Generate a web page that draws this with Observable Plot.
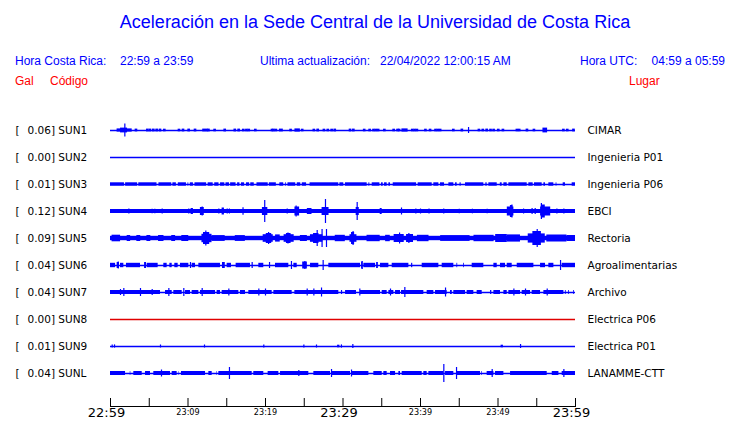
<!DOCTYPE html>
<html><head><meta charset="utf-8">
<script src="https://cdn.jsdelivr.net/npm/d3@7"></script>
<script src="https://cdn.jsdelivr.net/npm/@observablehq/plot@0.6"></script>
<style>
html,body{margin:0;padding:0;background:#fff;}
#wrap{width:740px;height:423px;position:relative;overflow:hidden;}
#head{position:relative;width:740px;height:96px;font-family:"Liberation Sans",Arial,sans-serif;}
#head span{position:absolute;white-space:pre;line-height:1;}
.blue{color:#0000ff;}
.red{color:#ff0000;}
#chart svg{display:block;}
</style></head>
<body><div id="wrap">
<div id="head"></div>
<div id="chart"></div>
</div>
<script>
// ---------- data ----------
const stations = ["SUN1","SUN2","SUN3","SUN4","SUN5","SUN6","SUN7","SUN8","SUN9","SUNL"];
const peaks = ["0.06","0.00","0.01","0.12","0.09","0.04","0.04","0.00","0.01","0.04"];
const places = ["CIMAR","Ingenieria P01","Ingenieria P06","EBCI","Rectoria","Agroalimentarias","Archivo","Electrica P06","Electrica P01","LANAMME-CTT"];
// minutes after 22:59
const tickMinutes = [0,5,10,15,20,25,30,35,40,45,50,55,60];
const labelMinutes = [0,10,20,30,40,50,60];
const labelTexts = ["22:59","23:09","23:19","23:29","23:39","23:49","23:59"];
const labelMajor = [true,false,false,true,false,false,true];

const headTitle = "Aceleración en la Sede Central de la Universidad de Costa Rica";
const headCR = ["Hora Costa Rica:", "22:59 a 23:59"];
const headUpd = ["Ultima actualización:", "22/04/2022 12:00:15 AM"];
const headUTC = ["Hora UTC:", "04:59 a 05:59"];
const headCols = ["Gal", "Código", "Lugar"];

// trace envelopes: bands [t0, t1, halfAmp], spikes [t, halfAmp], blips [t, halfAmp]
const sun1Blips = [[3.35,1.4],[4.82,1.4],[5.16,1.4],[5.59,1.4],[6.02,1.4],[6.45,1.4],[7.01,1.3],[8.9,1.3],[9.42,1.4],[10.15,1.4],[10.97,1.4],[12.7,1.4],[13.5,1.3],[14.8,1.4],[16.1,1.4],[16.6,1.4],[17.2,1.3],[17.6,1.3],[17.9,1.3],[18.75,1.3],[20.9,1.3],[21.1,1.3],[21.4,1.3],[23.3,1.3],[24.8,1.3],[26.3,1.3],[26.8,1.4],[27.6,1.3],[28.1,1.3],[28.6,1.3],[29.0,1.4],[30.97,1.4],[31.4,1.4],[32.8,1.3],[33.5,1.3],[34.0,1.3],[34.3,1.3],[34.6,1.3],[35.4,1.3],[36.6,1.3],[37.1,1.3],[37.3,1.3],[39.0,1.3],[39.3,1.3],[39.6,1.3],[40.7,1.3],[41.3,1.3],[42.0,1.3],[42.3,1.3],[42.6,1.3],[44.3,1.3],[45.4,1.4],[47.6,1.3],[48.1,1.3],[48.6,1.4],[49.1,1.3],[49.5,1.3],[50.1,1.3],[50.7,1.3],[52.5,1.3],[52.8,1.3],[53.8,1.4],[54.7,1.3],[58.5,1.3],[59.0,1.3],[59.8,1.4]];
const sun1Bands = [[0.85,2.8,1.6],[1.3,2.2,2.4],[11.9,12.6,1.4],[21.8,22.3,1.4],[23.8,24.5,1.6],[37.6,38.4,1.6],[55.8,56.4,2.4]];
const sun1Spikes = [[1.85,6.5],[46.2,3]];

const sun3Bands = [[0,1.8],[1.95,3.5],[3.65,6.0],[6.25,7.9],[8.05,8.5],[8.75,9.8],[10.0,10.1],[10.3,10.7],[10.9,12.4],[12.6,13.25],[13.45,14.0],[14.2,14.75],[14.9,15.35],[15.5,16.2],[16.4,16.7],[16.9,17.3],[17.55,17.95],[18.1,18.55],[18.9,20.35],[20.5,21.4],[21.85,22.35],[22.6,22.7],[22.9,23.9],[24.1,24.55],[24.75,25.3],[25.75,29.45],[29.6,30.1],[30.32,33.12],[33.34,33.46],[33.77,34.76],[34.97,35.19],[35.36,35.7],[35.92,36.13],[36.48,39.49],[39.7,41.51],[41.72,42.37],[42.58,43.1],[43.66,44.3],[44.52,44.73],[45.1,45.25],[45.81,48.17],[48.43,48.6],[48.82,49.9],[50.3,50.54],[50.76,51.19],[51.4,53.77],[53.98,54.54],[54.71,55.7],[55.92,56.13],[56.56,57.2],[57.5,57.6],[58.41,58.71],[59.57,60]];

const sun4Bands = [[0,60,2],[10.4,10.7,3],[11.6,12.1,4],[14.4,14.7,3.5],[19.6,20.3,4],[23.8,24.4,4.5],[25.4,26.0,3],[27.3,28.2,4],[31.7,32.1,4],[34.8,35.0,3],[51.2,52.05,4.5],[51.6,51.9,6],[55.5,56.8,4.5],[55.6,56.1,6.5]];
const sun4Spikes = [[2.37,2.5],[5.37,2.3],[5.72,2.3],[6.67,2.5],[10.1,2.5],[11.83,4.5],[13.98,2.5],[15.06,2.5],[15.35,2.5],[17.1,3.7],[19.9,11],[22.8,2.5],[23.95,5.5],[27.74,12],[31.83,9],[34.9,3],[37.55,3.5],[39.4,2.5],[40,2.5],[41.1,2.5],[43,2.5],[45,2.3],[46.7,2.3],[48.6,2.3],[51.8,6.5],[53.3,2.5],[54.4,3],[54.8,3],[55.6,8],[57.6,2.5],[58.5,2.5]];

const sun5Bands = [[0,60,2.2],[0.2,1.3,3.3],[2.15,2.6,3],[3.4,3.9,3],[4.7,5.2,3],[6.2,6.9,3],[7.9,8.4,3],[9.2,10.1,3],[11.8,13.1,4.2],[12.0,12.8,6],[13.1,14.8,2.9],[16.1,17.4,2.9],[19.7,21.0,3.8],[20.1,20.8,5],[21.3,21.9,3.6],[22.4,23.7,3.8],[22.7,23.3,5],[24.5,25.4,3],[25.8,27.4,3.8],[26.2,26.9,5],[29.0,30.3,3.2],[30.9,31.8,3.8],[31.1,31.5,6],[33.1,34.8,3.2],[35.5,36.1,3.2],[36.6,37.9,4],[38.2,39.1,4],[39.6,41.1,3.2],[42.6,46.4,2.9],[46.9,49.5,3.2],[49.7,51.2,4],[51.2,52.9,3.6],[53.9,56.1,4.6],[54.5,55.6,7],[56.3,58.9,3.5],[58.9,60,3]];
const sun5Spikes = [[12.3,7.5],[20.4,6],[22.9,5.5],[26.67,8],[27.3,9],[27.87,9],[31.3,7],[37.3,5.5],[38.5,5],[55.06,9]];

const sun6Bands = [[0,0.65],[0.86,1.16,3],[1.29,1.72],[2.06,3.87],[4.4,4.6,3],[4.73,6.15],[6.88,7.31],[7.66,7.96],[8.3,8.73],[9.03,10.11],[10.54,10.97],[11.4,14.19],[14.45,14.8,3],[15.05,15.61],[16.21,18.06],[19.14,19.78],[21.29,23.01],[23.66,24.09],[24.8,25.4,3.5],[25.81,26.88],[28.17,32.26],[32.4,32.55,3.5],[32.69,34.2],[34.35,34.5,3],[34.84,35.92],[36.35,38.5],[38.85,39.0],[40.22,42.37],[42.8,44.3],[44.7,44.8],[45.55,45.65],[46.67,48.17],[49.47,49.9],[50.32,50.97],[51.19,51.83],[52.48,54.63],[55.49,56.13],[56.56,57.21],[58.28,60]];
const sun6Spikes = [[1.0,3.5],[4.5,3],[10.32,3],[14.6,3],[18.28,3],[20.52,3],[23.35,4],[25.08,4],[27.44,5],[32.48,4],[34.41,3],[58.07,5]];

const sun7Bands = [[0,6.45],[7.1,7.96],[8.17,9.25],[9.68,10.32],[10.54,11.4],[11.61,13.55],[13.76,14.19],[14.41,16.56],[16.77,17.42],[17.85,20.86],[21.08,23.44],[23.79,29.46],[29.8,29.95],[30.33,31.74],[32.26,34.84],[35.06,35.7],[35.92,36.56],[36.78,37.42],[37.55,40.43],[40.86,41.72],[41.94,43.44],[43.87,44.1],[44.3,45.81],[46.02,46.88],[47.31,47.96],[49.04,49.2],[49.47,50.32],[50.76,51.19],[51.4,52.91],[53.12,54.2],[54.41,55.49],[55.92,58.5],[58.7,58.8],[59.1,59.2],[59.75,59.85]];
const sun7Spikes = [[1.29,3],[1.72,4],[3.87,4],[5.38,3],[7.53,4],[9.46,4],[11.83,4],[15.27,3.5],[19.14,3.5],[20,3.5],[25.38,3.5],[26.24,3.5],[27.23,4.5],[32.17,3.5],[36.13,3.5],[37.98,5],[43.23,4.5],[52.05,3.5],[53.55,3.5],[56.35,3.5]];

const sun9Bands = [[29.3,29.6,1.3],[50.4,50.7,1.3]];
const sun9Spikes = [[0.22,1.6],[0.52,1.6],[6.45,1.5],[12.13,1.5],[19.78,1.5],[24.95,1.5],[26.58,1.5],[29.8,1.6],[31.27,2],[52.91,2]];

const sunLBands = [[0,1.94],[2.55,2.62],[3.01,4.09],[4.52,5.16],[5.59,7.74],[7.96,8.6],[8.8,8.85],[9.16,12.26],[12.69,13.12],[13.7,13.76],[13.98,18.28],[18.49,19.78],[20.34,21.72],[21.94,25.59],[26.24,28.39],[28.6,30.97],[31.19,33.34],[33.98,35.06],[35.27,35.7],[36.13,36.78],[37.21,37.42],[37.64,40.22],[40.43,40.86],[41.08,43.01],[43.23,44.3],[44.73,47.74],[47.9,47.98],[48.6,49.47],[49.68,50.76],[51.62,56.35],[57.0,57.86],[58.28,60]];
const sunLSpikes = [[6.58,3.5],[15.35,6],[24.3,3],[28.52,4],[31.1,3.5],[43.01,9],[44.65,6],[49.25,4],[58.5,4]];

const defaultAmp = [1.4,0,1.7,2,2.2,2.2,2,0,1.3,2];
const bandsByRow = [sun1Bands,[],sun3Bands,sun4Bands,sun5Bands,sun6Bands,sun7Bands,[],sun9Bands,sunLBands];
const spikesByRow = [sun1Spikes,[],[],sun4Spikes,sun5Spikes,sun6Spikes,sun7Spikes,[],sun9Spikes,sunLSpikes];

// ---------- header ----------
const head = document.getElementById("head");
function put(txt, cls, size, left, top, anchor){
  const s = document.createElement("span");
  s.textContent = txt; s.className = cls;
  s.style.fontSize = size + "px"; s.style.top = top + "px";
  if (anchor === "middle") { s.style.left = left + "px"; s.style.transform = "translateX(-50%)"; }
  else if (anchor === "end") { s.style.right = (740 - left) + "px"; }
  else s.style.left = left + "px";
  head.appendChild(s);
}
put(headTitle, "blue", 18, 375, 13, "middle");
put(headCR[0], "blue", 12, 15, 55);
put(headCR[1], "blue", 12, 120, 55);
put(headUpd[0], "blue", 12, 260, 55);
put(headUpd[1], "blue", 12, 380, 55);
put(headUTC[0], "blue", 12, 580, 55);
put(headUTC[1], "blue", 12, 725, 55, "end");
put(headCols[0], "red", 12, 15, 75);
put(headCols[1], "red", 12, 50, 75);
put(headCols[2], "red", 12, 629, 75);

// ---------- chart ----------
const BLUE = "#0000ff", RED = "#e00000";
const gain = 1 / 27;
const rows = stations.map((s, i) => ({i, code: s, peak: peaks[i], place: places[i], color: s === "SUN8" ? RED : BLUE}));
const bandData = [];
bandsByRow.forEach((list, r) => list.forEach(b => bandData.push({row: r, t0: b[0], t1: b[1], amp: b.length > 2 ? b[2] : defaultAmp[r]})));
sun1Blips.forEach(b => bandData.push({row: 0, t0: b[0] - 0.17, t1: b[0] + 0.17, amp: b[1]}));
const spikeData = [];
spikesByRow.forEach((list, r) => list.forEach(s => spikeData.push({row: r, t: s[0], amp: s[1]})));
const labels = labelMinutes.map((m, k) => ({m, text: labelTexts[k], major: labelMajor[k]}));

const chart = Plot.plot({
  width: 740, height: 327,
  marginTop: 302, marginBottom: 16, marginLeft: 110, marginRight: 165,
  x: {domain: [0, 60], axis: null},
  y: {domain: [0, 9], range: [34, 277], axis: null},
  style: {fontFamily: "'DejaVu Sans', sans-serif", fontSize: "10.5px", background: "white", color: "black", overflow: "visible"},
  marks: [
    Plot.ruleY(rows, {y: "i", x1: () => 0, x2: () => 60, stroke: "color", strokeWidth: 1.3}),
    Plot.rect(bandData, {x1: "t0", x2: "t1", y1: d => d.row - d.amp * gain, y2: d => d.row + d.amp * gain, fill: BLUE}),
    Plot.ruleX(spikeData, {x: "t", y1: d => d.row - d.amp * gain, y2: d => d.row + d.amp * gain, stroke: BLUE, strokeWidth: 1.2}),
    Plot.text(rows, {y: "i", text: () => "[", frameAnchor: "left", dx: -95, textAnchor: "start", fill: "black"}),
    Plot.text(rows, {y: "i", text: d => d.peak + "] " + d.code, frameAnchor: "left", dx: -83, textAnchor: "start", fill: "black"}),
    Plot.text(rows, {y: "i", text: "place", frameAnchor: "right", dx: 12, textAnchor: "start", fill: "black"}),
    Plot.ruleX(tickMinutes, {x: d => d, stroke: "black", strokeWidth: 1}),
    Plot.rect([0], {x1: () => 0, x2: () => 60, insetTop: 8, fill: "black"}),
    Plot.text(labels.filter(d => d.major), {x: "m", text: "text", frameAnchor: "bottom", dx: -4, dy: 9, fontSize: 13, fill: "black"}),
    Plot.text(labels.filter(d => !d.major), {x: "m", text: "text", frameAnchor: "bottom", dy: 7, fontSize: 9, fontFamily: "'DejaVu Sans Condensed', 'DejaVu Sans', sans-serif", fill: "black"})
  ]
});
document.getElementById("chart").appendChild(chart);
</script>
</body></html>
